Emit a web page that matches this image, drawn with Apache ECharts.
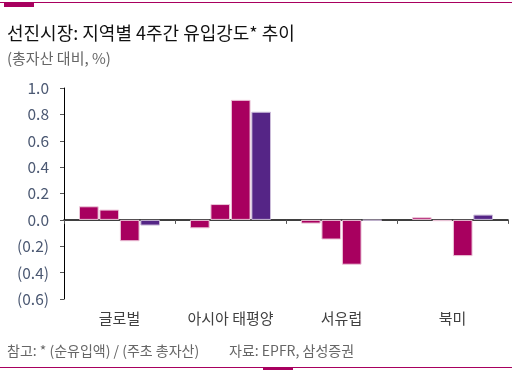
<!DOCTYPE html>
<html><head><meta charset="utf-8">
<script src="https://cdn.jsdelivr.net/npm/echarts@6/dist/echarts.min.js"></script>
<style>html,body{margin:0;padding:0;background:#fff}#c{width:512px;height:370px}</style>
</head><body><div id="c"></div>
<script>
const categories = ['글로벌', '아시아 태평양', '서유럽', '북미'];
const series1 = [0.103, -0.064, -0.028, 0.02];
const series2 = [0.078, 0.12, -0.149, -0.01];
const series3 = [-0.162, 0.91, -0.34, -0.275];
const series4 = [-0.043, 0.82, -0.005, 0.04];
const yTicks = [-0.6, -0.4, -0.2, 0.0, 0.2, 0.4, 0.6, 0.8, 1.0];

const FONT = '"Noto Sans CJK KR", "Noto Sans", sans-serif';
const MAG = '#a8005f', PUR = '#552586';
function fmt(v){ const a = Math.abs(v).toFixed(1); return v < -1e-9 ? '(' + a + ')' : a; }
function bar(name, data, color, border){
  return { name, type:'bar', data, xAxisIndex:0, yAxisIndex:0,
    itemStyle:{ color, borderColor:border, borderWidth:1 } };
}
const chart = echarts.init(document.getElementById('c'));
chart.setOption({
  animation:false,
  title:[
    { text:'선진시장: 지역별 4주간 유입강도* 추이', left:2, top:19,
      textStyle:{ fontFamily:FONT, fontSize:18, fontWeight:'normal', color:'#111' } },
    { text:'(총자산 대비, %)', left:2, top:46,
      textStyle:{ fontFamily:FONT, fontSize:15, fontWeight:'normal', color:'#666' } },
    { text:'참고: * (순유입액) / (주초 총자산)', left:2, top:339,
      textStyle:{ fontFamily:FONT, fontSize:14, fontWeight:'normal', color:'#666' } },
    { text:'자료: EPFR, 삼성증권', left:224, top:339,
      textStyle:{ fontFamily:FONT, fontSize:14, fontWeight:'normal', color:'#666' } }
  ],
  graphic:[
    { type:'rect', shape:{x:0, y:2, width:512, height:1}, style:{fill:MAG} },
    { type:'rect', shape:{x:4, y:2, width:30, height:5}, style:{fill:MAG} },
    { type:'rect', shape:{x:0, y:367, width:512, height:1}, style:{fill:MAG} },
    { type:'rect', shape:{x:263, y:367, width:30, height:3}, style:{fill:MAG} }
  ],
  grid:{ left:64, right:4, top:88, bottom:71, containLabel:false },
  xAxis:[
    { type:'category', data:categories, position:'bottom',
      axisLine:{ show:false, onZero:false }, axisTick:{ show:false },
      axisLabel:{ interval:0, margin:12, fontFamily:FONT, fontSize:15, color:'#404040' } },
    { type:'category', data:categories, position:'bottom',
      axisLine:{ show:true, onZero:true, lineStyle:{ color:'#000', width:1.5 } },
      axisTick:{ show:true, interval:0, length:4, alignWithLabel:false, lineStyle:{ color:'#555' } },
      axisLabel:{ show:false } }
  ],
  yAxis:{ type:'value', min:-0.6, max:1.0, interval:0.2,
    axisLine:{ show:true, lineStyle:{ color:'#000', width:1 } },
    axisTick:{ show:true, length:4, lineStyle:{ color:'#555' } },
    splitLine:{ show:false },
    axisLabel:{ margin:15, fontFamily:FONT, fontSize:15.5, color:'#4b5872',
      formatter:(v)=>fmt(v) } },
  series:[
    Object.assign(bar('s1', series1, MAG, '#ecc6d9'), { barGap:'4%', barCategoryGap:'27%' }),
    bar('s2', series2, MAG, '#ecc6d9'),
    bar('s3', series3, MAG, '#ecc6d9'),
    bar('s4', series4, PUR, '#cbbcd9')
  ]
});
</script></body></html>
